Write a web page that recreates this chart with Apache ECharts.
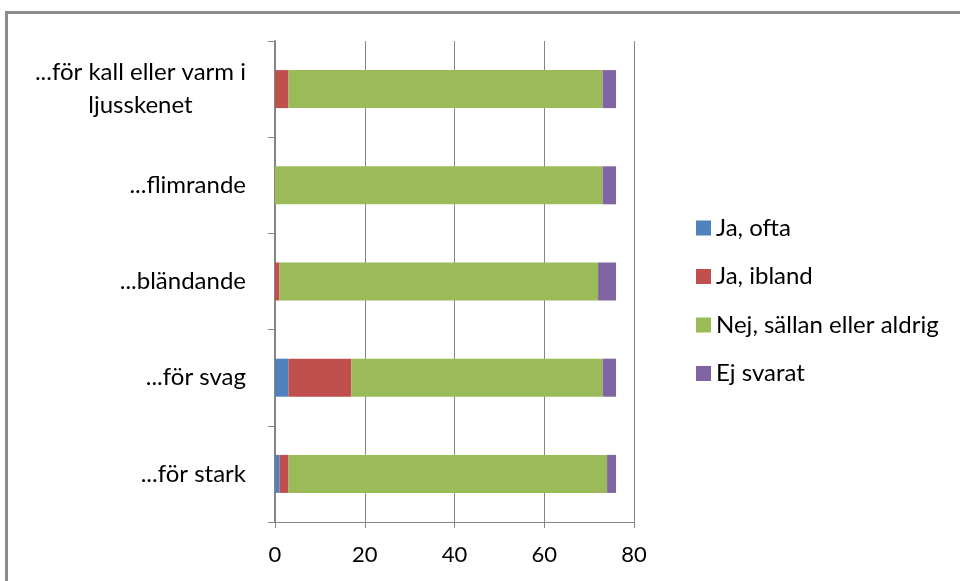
<!DOCTYPE html>
<html><head><meta charset="utf-8">
<script src="https://cdn.jsdelivr.net/npm/echarts@6/dist/echarts.min.js"></script>
<style>html,body{margin:0;padding:0;background:#fff}#c{width:960px;height:581px}</style>
</head><body><div id="c"></div>
<script>
const categories = ['...för stark', '...för svag', '...bländande', '...flimrande', '...för kall eller varm i ljusskenet'];
const seriesNames = ['Ja, ofta', 'Ja, ibland', 'Nej, sällan eller aldrig', 'Ej svarat'];
const jaOfta = [1, 3, 0, 0, 0];
const jaIbland = [2, 14, 1, 0, 3];
const nej = [71, 56, 71, 73, 70];
const ejSvarat = [2, 3, 4, 3, 3];
const xTicks = [0, 20, 40, 60, 80];
const colors = ['#4F81BD', '#C0504D', '#9BBB59', '#8064A2'];

const values = [jaOfta, jaIbland, nej, ejSvarat];
const font = 'Lato, "Open Sans", sans-serif';
const chart = echarts.init(document.getElementById('c'));
chart.setOption({
  animation: false,
  textStyle: { fontFamily: font },
  graphic: [{
    type: 'rect', shape: { x: 6.5, y: 12.5, width: 1000, height: 700 },
    style: { fill: 'none', stroke: '#8c8c8c', lineWidth: 3 }, silent: true
  }],
  grid: { left: 275, right: 326, top: 41, bottom: 59, containLabel: false },
  legend: {
    orient: 'vertical', left: 691, top: 211, itemGap: 24.5,
    itemWidth: 15, itemHeight: 15, icon: 'rect',
    textStyle: { fontSize: 24, color: '#000', fontFamily: font },
    data: seriesNames
  },
  xAxis: {
    type: 'value', min: xTicks[0], max: xTicks[xTicks.length - 1], interval: 20,
    axisLine: { show: true, lineStyle: { color: '#868686', width: 1 } },
    axisTick: { show: true, length: 6, lineStyle: { color: '#868686' } },
    axisLabel: { fontSize: 22, color: '#000', margin: 22, fontFamily: font },
    splitLine: { show: true, lineStyle: { color: '#868686', width: 1 } }
  },
  yAxis: {
    type: 'category', data: categories,
    axisLine: { show: true, lineStyle: { color: '#868686', width: 2 } },
    axisTick: { show: true, length: 7, lineStyle: { color: '#868686', width: 1 } },
    axisLabel: {
      align: 'right', margin: 29,
      formatter: v => v.replace(' ljusskenet', '\nljusskenet').split('\n').map(s => '{a|' + s + '}').join('\n'),
      rich: { a: { fontSize: 24, color: '#000', align: 'center', lineHeight: 33, fontFamily: font } }
    }
  },
  series: seriesNames.map((n, i) => ({
    name: n, type: 'bar', stack: 'total', data: values[i],
    barWidth: 38, itemStyle: { color: colors[i] }
  }))
});
</script></body></html>
